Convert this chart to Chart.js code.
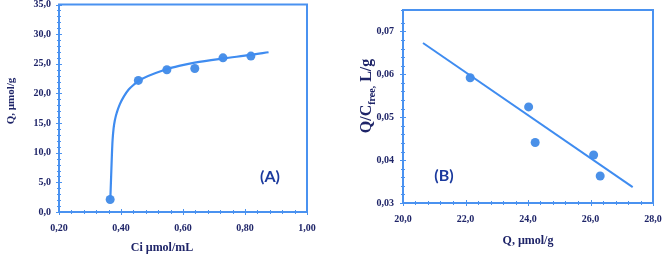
<!DOCTYPE html>
<html>
<head>
<meta charset="utf-8">
<script src="https://cdn.jsdelivr.net/npm/chart.js@4.4.1/dist/chart.umd.min.js"></script>
<style>
	body { margin: 0; background: #fff; }
	#wrap { position: relative; width: 663px; height: 256px; }
	canvas { position: absolute; top: 0; }
</style>
</head>
<body>
<div id="wrap">
	<canvas id="chart_a" width="330" height="256" style="left:0"></canvas>
	<canvas id="chart_b" width="333" height="256" style="left:330px"></canvas>
</div>
<script>
// panel A: isotherm points and fitted curve
const ciValues = [0.365, 0.456, 0.548, 0.638, 0.729, 0.819]
const qValues = [2.1, 22.2, 24.0, 24.2, 26.0, 26.3]
const fitCi = [0.3655, 0.3683, 0.3706, 0.3728, 0.3761, 0.3803, 0.3867, 0.3964, 0.4094, 0.4255, 0.4417, 0.4557, 0.548, 0.591, 0.638, 0.729, 0.819, 0.876]
const fitQ = [2.1, 6.2, 9.6, 12.1, 14.1, 15.5, 16.8, 18.2, 19.5, 20.7, 21.5, 22.1, 24.1, 24.7, 25.2, 25.9, 26.5, 26.95]

// panel B: Scatchard plot
const qB = [22.15, 24.02, 24.23, 26.1, 26.31]
const ratioB = [0.0592, 0.0524, 0.0441, 0.0412, 0.0363]
const lineQ = [20.64, 27.35]
const lineRatio = [0.0673, 0.0337]

const blue = '#4a92f0'
const navy = '#1e2468'
const serif = "'Liberation Serif', 'DejaVu Serif', serif"

function pts(xs, ys) {
	return xs.map(function (x, i) { return { x: x, y: ys[i] } })
}

function comma(v, d) {
	return v.toFixed(d).replace('.', ',')
}

// ticks crossing the axes + the blue frame + texts
function framePlugin(texts) {
	return {
		id: 'frame',
		afterDraw: function (chart) {
			const ctx = chart.ctx
			const area = chart.chartArea
			ctx.save()
			ctx.strokeStyle = blue
			ctx.lineWidth = 1
			Object.values(chart.scales).forEach(function (scale) {
				scale.ticks.forEach(function (t) {
					const p = Math.round(scale.getPixelForValue(t.value)) + 0.5
					const len = t.label ? 3 : 2
					ctx.beginPath()
					if (scale.isHorizontal()) {
						ctx.moveTo(p, area.bottom - len)
						ctx.lineTo(p, area.bottom + len)
					} else {
						ctx.moveTo(area.left - len, p)
						ctx.lineTo(area.left + len, p)
					}
					ctx.stroke()
				})
			})
			ctx.lineWidth = 2
			ctx.strokeRect(area.left, area.top, area.right - area.left, area.bottom - area.top)

			ctx.fillStyle = navy
			ctx.textAlign = 'center'
			ctx.textBaseline = 'middle'
			ctx.font = 'bold 12px ' + serif
			ctx.fillText(texts.xTitle.text, texts.xTitle.x, texts.xTitle.y)

			// rotated y title, parts allow a subscript
			const parts = texts.yTitle.parts
			const widths = []
			let total = 0
			parts.forEach(function (pt) {
				ctx.font = 'bold ' + pt.size + 'px ' + serif
				const w = ctx.measureText(pt.text).width
				widths.push(w)
				total += w
			})
			ctx.save()
			ctx.translate(texts.yTitle.x, texts.yTitle.y)
			ctx.rotate(-Math.PI / 2)
			ctx.textAlign = 'left'
			ctx.textBaseline = 'alphabetic'
			let pos = -total / 2
			parts.forEach(function (pt, i) {
				ctx.font = 'bold ' + pt.size + 'px ' + serif
				ctx.fillText(pt.text, pos, texts.yTitle.base + (pt.shift || 0))
				pos += widths[i]
			})
			ctx.restore()

			ctx.fillStyle = '#1b3a9e'
			ctx.font = "bold 16px Lato, 'Open Sans', sans-serif"
			ctx.textAlign = 'center'
			ctx.fillText(texts.tag.text, texts.tag.x, texts.tag.y)
			ctx.restore()
		},
	}
}

function axis(min, max, step, every, digits, pad, fit) {
	return {
		type: 'linear',
		min: min,
		max: max,
		grid: { display: false, drawTicks: false },
		border: { display: false },
		ticks: {
			stepSize: step,
			autoSkip: false,
			maxRotation: 0,
			padding: pad,
			color: navy,
			font: { family: serif, size: 10, weight: 'bold' },
			callback: function (v) {
				const n = Math.round(v / step)
				return n % every === 0 ? comma(v, digits) : ''
			},
		},
		afterFit: fit,
	}
}

function makeChart(id, datasets, scales, padding, texts) {
	return new Chart(document.getElementById(id).getContext('2d'), {
		type: 'scatter',
		data: { datasets: datasets },
		options: {
			responsive: false,
			animation: false,
			devicePixelRatio: 1,
			layout: { padding: padding },
			scales: scales,
			plugins: {
				legend: { display: false },
				tooltip: { enabled: false },
			},
		},
		plugins: [framePlugin(texts)],
	})
}

function fitW(w) {
	return function (s) { s.width = w; s.paddingTop = 0; s.paddingBottom = 0 }
}
function fitH(h) {
	return function (s) { s.height = h; s.paddingLeft = 0; s.paddingRight = 0 }
}

makeChart('chart_a', [
	{
		data: pts(fitCi, fitQ),
		showLine: true,
		borderColor: '#3f8cf0',
		borderWidth: 2.2,
		pointRadius: 0,
		cubicInterpolationMode: 'monotone',
	},
	{
		data: pts(ciValues, qValues),
		pointRadius: 4.5,
		pointBackgroundColor: '#4a90e8',
		pointBorderWidth: 0,
	},
], {
	x: axis(0.2, 1.0, 0.04, 5, 2, 10, fitH(44)),
	y: axis(0, 35, 1, 5, 1, 8, fitW(59)),
}, { left: 0, right: 23, top: 4, bottom: 0 }, {
	xTitle: { text: 'Ci µmol/mL', x: 162, y: 248 },
	yTitle: { x: 10, y: 101, base: 4, parts: [{ text: 'Q, µmol/g', size: 11 }] },
	tag: { text: '(A)', x: 270, y: 177 },
})

makeChart('chart_b', [
	{
		data: pts(lineQ, lineRatio),
		showLine: true,
		borderColor: '#3f8cf0',
		borderWidth: 2,
		pointRadius: 0,
	},
	{
		data: pts(qB, ratioB),
		pointRadius: 4.5,
		pointBackgroundColor: '#4a90e8',
		pointBorderWidth: 0,
	},
], {
	x: axis(20, 28, 0.4, 5, 1, 10, fitH(53)),
	y: axis(0.03, 0.075, 0.002, 5, 2, 9, fitW(73)),
}, { left: 0, right: 10, top: 10, bottom: 0 }, {
	xTitle: { text: 'Q, µmol/g', x: 198, y: 241 },
	yTitle: {
		x: 35, y: 96, base: 6,
		parts: [
			{ text: 'Q/C', size: 16 },
			{ text: 'free,', size: 10, shift: 4 },
			{ text: ' L/g', size: 16 },
		],
	},
	tag: { text: '(B)', x: 114, y: 176 },
})
</script>
</body>
</html>
